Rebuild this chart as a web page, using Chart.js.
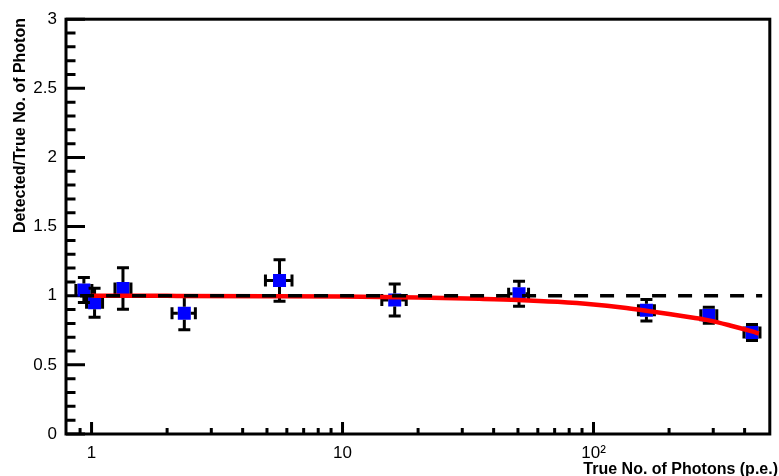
<!DOCTYPE html>
<html>
<head>
<meta charset="utf-8">
<script src="https://cdn.jsdelivr.net/npm/chart.js@4.4.0/dist/chart.umd.min.js"></script>
<style>
  html, body { margin: 0; padding: 0; background: #fff; }
  #wrap { width: 779px; height: 476px; }
</style>
</head>
<body>
<div id="wrap"><canvas id="c" width="779" height="476"></canvas></div>
<script>
// Measured points: true photon count vs detected/true ratio
const photonsTrue    = [0.932, 1.028, 1.334, 2.342, 5.61, 16.14, 50.5, 162.5, 288, 428];
const photonsTrueErr = [0.05, 0.05, 0.09, 0.25, 0.68, 1.8, 4.6, 8, 12, 15];
const ratio          = [1.041, 0.950, 1.053, 0.874, 1.111, 0.969, 1.014, 0.895, 0.859, 0.734];
const ratioErr       = [0.09, 0.105, 0.15, 0.12, 0.15, 0.115, 0.09, 0.078, 0.03, 0.03];

// Fitted saturation curve
const fitX = [1, 2, 5, 10, 20, 35, 50, 72, 100, 130, 162, 200, 250, 288, 350, 428, 456];
const fitY = [1.000, 0.999, 0.997, 0.994, 0.987, 0.978, 0.970, 0.956, 0.937, 0.915, 0.892, 0.868, 0.841, 0.822, 0.785, 0.742, 0.727];

// Unity reference line
const refX = [0.9, 470];
const refY = [1, 1];

// Axis ticks
const xTickValues = [1, 10, 100];
const xTickLabels = ['1', '10', '10\u00B2'];
const yTickValues = [0, 0.5, 1, 1.5, 2, 2.5, 3];
const yTickLabels = ['0', '0.5', '1', '1.5', '2', '2.5', '3'];

const FONT = "'Liberation Sans', Arial, Helvetica, sans-serif";

const pts = (xs, ys) => xs.map((v, i) => ({ x: v, y: ys[i] }));

// Frame and inward-pointing ticks
const framePlugin = {
  id: 'frame',
  beforeDatasetsDraw(chart) {
    const { ctx, chartArea: a, scales: { x, y } } = chart;
    ctx.save();
    ctx.strokeStyle = '#000';
    ctx.lineWidth = 3;
    ctx.lineCap = 'butt';
    ctx.beginPath();
    for (let i = 0; i <= 30; i++) {
      const py = y.getPixelForValue(i / 10);
      const len = i % 5 === 0 ? 19 : 9.5;
      ctx.moveTo(a.left, py);
      ctx.lineTo(a.left + len, py);
    }
    for (let d = 0.1; d <= 100; d *= 10) {
      for (let k = 1; k <= 9; k++) {
        const v = d * k;
        if (v < x.min || v > x.max) continue;
        const px = x.getPixelForValue(v);
        if (px < a.left + 3 || px > a.right - 3) continue;
        const len = k === 1 ? 12 : 6;
        ctx.moveTo(px, a.bottom);
        ctx.lineTo(px, a.bottom - len);
      }
    }
    ctx.stroke();
    ctx.strokeRect(a.left, a.top, a.right - a.left, a.bottom - a.top);
    ctx.restore();
  },
  afterDatasetDraw(chart, args) {
    if (args.index !== 2) return;
    const { ctx, scales: { x, y } } = chart;
    const half = 6.5, gap = 8, cap = 6;
    ctx.save();
    ctx.strokeStyle = '#000';
    ctx.lineWidth = 3;
    ctx.lineCap = 'butt';
    ctx.beginPath();
    photonsTrue.forEach((xv, i) => {
      const px = x.getPixelForValue(xv);
      const py = y.getPixelForValue(ratio[i]);
      const top = Math.min(y.getPixelForValue(ratio[i] + ratioErr[i]), py - gap);
      const bot = Math.max(y.getPixelForValue(ratio[i] - ratioErr[i]), py + gap);
      const lft = Math.min(x.getPixelForValue(xv - photonsTrueErr[i]), px - gap);
      const rgt = Math.max(x.getPixelForValue(xv + photonsTrueErr[i]), px + gap);
      ctx.moveTo(px, top); ctx.lineTo(px, py - half);
      ctx.moveTo(px, py + half); ctx.lineTo(px, bot);
      ctx.moveTo(lft, py); ctx.lineTo(px - half, py);
      ctx.moveTo(px + half, py); ctx.lineTo(rgt, py);
      ctx.moveTo(px - cap, top); ctx.lineTo(px + cap, top);
      ctx.moveTo(px - cap, bot); ctx.lineTo(px + cap, bot);
      ctx.moveTo(lft, py - cap); ctx.lineTo(lft, py + cap);
      ctx.moveTo(rgt, py - cap); ctx.lineTo(rgt, py + cap);
    });
    ctx.stroke();
    ctx.restore();
  },
  afterDraw(chart) {
    const { ctx } = chart;
    ctx.save();
    ctx.fillStyle = '#000';
    ctx.font = 'bold 16px ' + FONT;
    ctx.textBaseline = 'alphabetic';
    ctx.textAlign = 'right';
    ctx.fillText('True No. of Photons (p.e.)', 778, 474);
    ctx.translate(24.5, 18);
    ctx.rotate(-Math.PI / 2);
    ctx.fillText('Detected/True No. of Photon', 0, 0);
    ctx.restore();
  }
};

new Chart(document.getElementById('c'), {
  type: 'scatter',
  data: {
    datasets: [
      {
        label: 'unity',
        data: pts(refX, refY),
        showLine: true,
        borderColor: '#000',
        borderWidth: 3.5,
        borderDash: [14, 12],
        pointRadius: 0,
        fill: false
      },
      {
        label: 'fit',
        data: pts(fitX, fitY),
        showLine: true,
        borderColor: '#ff0000',
        borderWidth: 4.5,
        cubicInterpolationMode: 'monotone',
        pointRadius: 0,
        fill: false
      },
      {
        label: 'data',
        data: pts(photonsTrue, ratio),
        showLine: false,
        pointStyle: 'rect',
        pointRadius: 9.2,
        pointHoverRadius: 9.2,
        backgroundColor: '#0000ff',
        borderWidth: 0
      }
    ]
  },
  options: {
    responsive: false,
    animation: false,
    events: [],
    layout: { padding: { top: 16, right: 5, left: 0, bottom: 0 } },
    plugins: { legend: { display: false }, tooltip: { enabled: false } },
    scales: {
      x: {
        type: 'logarithmic',
        min: 0.791,
        max: 504,
        grid: { display: false, drawTicks: false },
        border: { display: false },
        afterBuildTicks: s => { s.ticks = xTickValues.map(v => ({ value: v })); },
        afterFit: s => { s.height = 42; },
        ticks: {
          autoSkip: false,
          maxRotation: 0,
          padding: 9,
          color: '#000',
          font: { family: FONT, size: 17 },
          callback: v => xTickLabels[xTickValues.indexOf(v)]
        }
      },
      y: {
        type: 'linear',
        min: 0,
        max: 3,
        grid: { display: false, drawTicks: false },
        border: { display: false },
        afterBuildTicks: s => { s.ticks = yTickValues.map(v => ({ value: v })); },
        afterFit: s => { s.width = 66; },
        ticks: {
          padding: 9,
          color: '#000',
          font: { family: FONT, size: 17 },
          callback: v => yTickLabels[yTickValues.indexOf(v)]
        }
      }
    }
  },
  plugins: [framePlugin]
});
</script>
</body>
</html>
